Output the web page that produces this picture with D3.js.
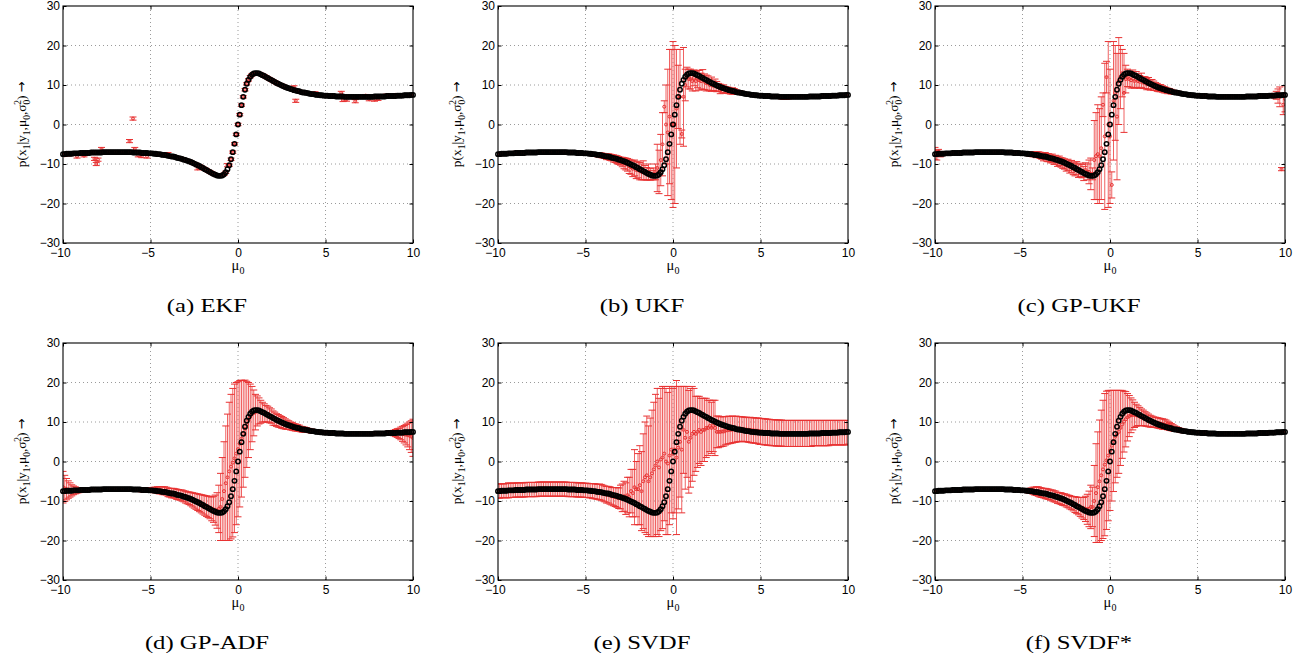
<!DOCTYPE html>
<html>
<head>
<meta charset="utf-8">
<title>Posterior of x1 for six filters</title>
<script src="https://cdn.jsdelivr.net/npm/d3@7/dist/d3.min.js"></script>
<style>
  body { margin: 0; background: #fff; }
  svg { display: block; }
  .ylab { font-family: "Liberation Serif", "Times New Roman", serif; font-size: 13.5px; fill: #000; }
  .xlab { font-family: "Liberation Serif", "Times New Roman", serif; font-size: 14.5px; fill: #000; }
  .cap { font-family: "Liberation Serif", "Times New Roman", serif; font-size: 19px; fill: #000; }
</style>
</head>
<body>
<svg id="fig" width="1302" height="653"></svg>
<script>
// test inputs mu0 = -10 ... 10 in steps of 0.1
var mu0 = d3.range(-100, 101).map(function (i) { return i / 10 });
var xTicks = [-10, -5, 0, 5, 10];
var yTicks = [-30, -20, -10, 0, 10, 20, 30];

// black circles: true posterior mean
var trueMean = [
  -7.5,-7.5,-7.4,-7.4,-7.4,-7.4,-7.3,-7.3,-7.3,-7.3,
  -7.2,-7.2,-7.2,-7.2,-7.2,-7.2,-7.1,-7.1,-7.1,-7.1,
  -7.1,-7.1,-7.1,-7.0,-7.0,-7.0,-7.0,-7.0,-7.0,-7.0,
  -7.0,-7.0,-7.0,-7.0,-7.0,-7.0,-7.0,-7.0,-7.0,-7.0,
  -7.1,-7.1,-7.1,-7.1,-7.1,-7.2,-7.2,-7.2,-7.2,-7.3,
  -7.3,-7.3,-7.4,-7.4,-7.5,-7.5,-7.6,-7.7,-7.7,-7.8,
  -7.9,-8.0,-8.1,-8.1,-8.2,-8.4,-8.5,-8.6,-8.7,-8.9,
  -9.0,-9.2,-9.3,-9.5,-9.7,-9.9,-10.1,-10.3,-10.5,-10.8,
  -11.0,-11.3,-11.5,-11.8,-12.0,-12.3,-12.5,-12.7,-12.9,-13.0,
  -13.0,-12.9,-12.6,-12.1,-11.3,-10.3,-8.8,-7.0,-4.9,-2.5,
  0.0,2.5,4.9,7.0,8.8,10.3,11.3,12.1,12.6,12.9,
  13.0,13.0,12.9,12.7,12.5,12.3,12.0,11.8,11.5,11.3,
  11.0,10.8,10.5,10.3,10.1,9.9,9.7,9.5,9.3,9.2,
  9.0,8.9,8.7,8.6,8.5,8.4,8.2,8.1,8.1,8.0,
  7.9,7.8,7.7,7.7,7.6,7.5,7.5,7.4,7.4,7.3,
  7.3,7.3,7.2,7.2,7.2,7.2,7.1,7.1,7.1,7.1,
  7.1,7.0,7.0,7.0,7.0,7.0,7.0,7.0,7.0,7.0,
  7.0,7.0,7.0,7.0,7.0,7.0,7.0,7.0,7.1,7.1,
  7.1,7.1,7.1,7.1,7.1,7.2,7.2,7.2,7.2,7.2,
  7.2,7.3,7.3,7.3,7.3,7.4,7.4,7.4,7.4,7.5,
  7.5];

// red error bars: filter mean and standard deviation
var ekfMean = [
  -7.6,-7.8,-7.5,-7.4,-7.6,-7.4,-7.5,-7.3,-8.1,-7.3,
  -7.2,-7.2,-7.9,-7.2,-7.2,-7.2,-7.1,-7.1,-8.7,-10.0,
  -8.9,-7.1,-6.2,-7.0,-7.0,-7.0,-7.0,-7.0,-7.0,-7.0,
  -7.0,-7.0,-7.0,-7.0,-7.0,-7.0,-7.0,-7.0,-4.2,-7.0,
  1.5,-6.2,-7.1,-7.8,-7.1,-8.0,-7.2,-7.2,-8.1,-7.3,
  -7.3,-7.3,-7.4,-7.4,-7.5,-7.5,-7.6,-7.7,-7.7,-7.8,
  -7.5,-8.0,-8.1,-8.1,-8.2,-8.4,-8.5,-8.6,-8.7,-8.9,
  -9.0,-9.2,-9.3,-9.5,-9.7,-9.9,-10.1,-11.1,-10.5,-10.8,
  -11.0,-11.3,-11.5,-11.8,-12.0,-12.3,-12.5,-12.7,-12.9,-13.0,
  -13.0,-12.9,-12.6,-12.1,-10.3,-10.3,-8.8,-7.0,-4.9,-2.5,
  0.0,2.5,4.9,7.0,8.8,10.3,11.3,12.1,12.6,12.9,
  13.0,13.0,12.9,12.7,12.5,12.3,12.0,11.8,11.5,11.3,
  11.0,10.8,10.5,10.3,10.1,9.9,9.7,9.5,9.3,9.2,
  9.0,8.9,9.4,6.0,8.5,8.4,8.2,8.1,8.1,8.0,
  7.9,7.8,7.7,7.7,7.9,7.5,7.5,7.4,7.4,7.3,
  7.3,7.3,7.2,7.2,7.2,7.2,7.1,7.1,7.1,8.0,
  6.2,7.0,6.3,7.0,7.0,7.0,7.0,5.9,7.0,7.0,
  7.0,7.0,7.0,7.3,7.0,6.4,7.0,7.0,6.3,7.1,
  6.5,7.1,7.1,7.1,7.1,7.4,7.2,7.2,7.2,7.2,
  7.5,7.3,7.3,7.3,7.3,7.4,7.4,7.4,7.4,7.5,
  7.5];
var ekfSd = [
  0.3,0.3,0.3,0.3,0.3,0.3,0.3,0.3,0.4,0.3,
  0.3,0.3,0.3,0.3,0.3,0.3,0.3,0.3,0.4,0.4,
  0.4,0.3,0.4,0.3,0.3,0.3,0.3,0.3,0.3,0.3,
  0.3,0.3,0.3,0.3,0.3,0.3,0.3,0.3,0.4,0.3,
  0.4,0.4,0.3,0.4,0.3,0.4,0.3,0.3,0.4,0.3,
  0.3,0.3,0.3,0.3,0.3,0.3,0.3,0.3,0.3,0.3,
  0.4,0.3,0.3,0.3,0.3,0.3,0.3,0.3,0.3,0.3,
  0.3,0.3,0.3,0.3,0.3,0.3,0.3,0.4,0.3,0.3,
  0.3,0.3,0.3,0.3,0.3,0.3,0.3,0.3,0.3,0.3,
  0.3,0.3,0.3,0.3,0.4,0.3,0.3,0.3,0.3,0.3,
  0.3,0.3,0.3,0.3,0.3,0.3,0.3,0.3,0.3,0.3,
  0.3,0.3,0.3,0.3,0.3,0.3,0.3,0.3,0.3,0.3,
  0.3,0.3,0.3,0.3,0.3,0.3,0.3,0.3,0.3,0.3,
  0.3,0.3,0.4,0.4,0.3,0.3,0.3,0.3,0.3,0.3,
  0.3,0.3,0.3,0.3,0.4,0.3,0.3,0.3,0.3,0.3,
  0.3,0.3,0.3,0.3,0.3,0.3,0.3,0.3,0.3,0.4,
  0.4,0.3,0.4,0.3,0.3,0.3,0.3,0.4,0.3,0.3,
  0.3,0.3,0.3,0.3,0.3,0.4,0.3,0.3,0.4,0.3,
  0.4,0.3,0.3,0.3,0.3,0.3,0.3,0.3,0.3,0.3,
  0.3,0.3,0.3,0.3,0.3,0.3,0.3,0.3,0.3,0.3,
  0.3];

var ukfMean = [
  -7.5,-7.5,-7.4,-7.4,-7.4,-7.4,-7.3,-7.3,-7.3,-7.3,
  -7.2,-7.2,-7.2,-7.2,-7.2,-7.2,-7.1,-7.1,-7.1,-7.1,
  -7.1,-7.1,-7.1,-7.0,-7.0,-7.0,-7.0,-7.0,-7.0,-7.0,
  -7.0,-7.0,-7.0,-7.0,-7.0,-7.0,-7.0,-7.0,-7.0,-7.0,
  -7.1,-7.1,-7.1,-7.1,-7.1,-7.2,-7.2,-7.2,-7.2,-7.3,
  -7.3,-7.3,-7.4,-7.4,-7.5,-7.5,-7.6,-7.7,-7.7,-7.8,
  -7.9,-8.0,-8.2,-8.1,-8.3,-8.4,-8.6,-8.7,-8.9,-9.1,
  -9.3,-9.5,-9.8,-10.0,-10.2,-10.6,-10.8,-11.2,-11.0,-11.5,
  -11.5,-11.8,-12.0,-11.6,-12.2,-12.5,-12.0,-12.6,-12.8,-12.5,
  -12.0,-11.0,-12.0,-9.0,-5.0,4.5,0.0,-2.0,2.0,0.0,
  0.0,0.0,4.0,7.0,7.0,-2.4,7.0,10.0,12.0,11.5,
  11.5,11.0,11.8,11.0,11.5,11.2,11.0,11.4,10.8,10.5,
  10.5,10.0,10.2,9.8,10.0,9.6,9.4,9.0,9.0,9.0,
  8.8,8.7,8.6,8.4,8.5,8.4,8.2,8.1,8.1,8.0,
  7.9,7.8,7.7,7.7,7.6,7.5,7.5,7.4,7.4,7.3,
  7.3,7.3,7.2,7.2,7.2,7.2,7.1,7.1,7.1,7.1,
  7.1,7.0,6.9,6.8,6.8,6.8,6.9,7.0,7.0,7.0,
  7.0,7.0,7.0,7.0,7.0,7.0,7.0,7.0,7.1,7.1,
  7.1,7.1,7.1,7.1,7.1,7.2,7.2,7.2,7.2,7.2,
  7.2,7.3,7.3,7.3,7.3,7.4,7.4,7.4,7.4,7.5,
  7.5];
var ukfSd = [
  0.4,0.4,0.4,0.4,0.4,0.4,0.4,0.4,0.4,0.4,
  0.4,0.4,0.4,0.4,0.4,0.4,0.4,0.4,0.4,0.4,
  0.3,0.3,0.3,0.3,0.3,0.3,0.3,0.3,0.3,0.3,
  0.3,0.3,0.3,0.3,0.3,0.3,0.3,0.3,0.3,0.3,
  0.3,0.3,0.3,0.3,0.3,0.3,0.3,0.3,0.3,0.3,
  0.3,0.3,0.3,0.4,0.4,0.4,0.5,0.5,0.5,0.6,
  0.6,0.6,0.7,0.7,0.8,0.8,0.9,0.9,1.0,1.0,
  1.0,1.2,1.4,1.5,1.6,1.8,1.8,2.0,2.0,2.2,
  2.0,2.2,2.0,2.4,1.8,1.6,2.0,1.5,1.2,1.5,
  2.0,6.0,5.5,6.5,8.0,1.5,10.0,16.0,17.0,19.0,
  21.0,20.0,15.0,8.0,12.0,1.0,12.5,4.0,2.5,2.5,
  2.5,2.5,2.0,2.5,2.2,2.5,2.0,2.5,2.0,2.0,
  1.8,1.5,1.8,1.2,1.5,1.3,1.0,1.2,1.0,1.0,
  0.8,0.8,0.8,0.7,0.8,0.7,0.6,0.5,0.5,0.4,
  0.4,0.3,0.3,0.3,0.3,0.3,0.3,0.3,0.3,0.3,
  0.3,0.3,0.3,0.3,0.3,0.3,0.3,0.3,0.3,0.3,
  0.3,0.3,0.4,0.4,0.4,0.4,0.4,0.3,0.3,0.3,
  0.3,0.3,0.3,0.3,0.3,0.3,0.3,0.3,0.3,0.3,
  0.3,0.3,0.3,0.3,0.3,0.3,0.3,0.3,0.3,0.3,
  0.3,0.3,0.3,0.3,0.3,0.3,0.3,0.3,0.3,0.3,
  0.3];

var gpukfMean = [
  -7.3,-7.8,-7.2,-7.5,-7.4,-7.4,-7.3,-7.3,-7.3,-7.3,
  -7.2,-7.2,-7.2,-7.2,-7.2,-7.2,-7.1,-7.1,-7.1,-7.1,
  -7.1,-7.1,-7.1,-7.0,-7.0,-7.0,-7.0,-7.0,-7.0,-7.0,
  -7.0,-7.0,-7.0,-7.0,-7.0,-7.0,-7.0,-7.0,-7.0,-7.0,
  -7.1,-7.1,-7.1,-7.1,-7.1,-7.2,-7.2,-7.2,-7.2,-7.3,
  -7.3,-7.3,-7.4,-7.4,-7.5,-7.4,-7.6,-7.5,-7.7,-7.6,
  -7.8,-8.0,-8.3,-8.0,-8.4,-8.4,-8.7,-8.6,-9.0,-8.9,
  -9.4,-9.2,-9.6,-9.8,-10.0,-10.4,-10.2,-10.8,-10.6,-11.2,
  -11.4,-11.0,-11.8,-11.5,-11.8,-12.4,-11.5,-12.0,-12.0,-12.5,
  -12.5,-9.0,-8.0,-7.5,-8.0,-6.0,5.0,-3.0,12.0,0.0,
  -3.0,-15.3,6.0,8.0,2.0,11.0,12.0,13.0,8.0,11.5,
  11.8,11.5,11.2,11.6,11.0,11.4,11.0,10.8,11.2,10.6,
  10.6,10.2,10.4,10.0,10.2,9.8,9.6,9.4,9.2,9.2,
  9.0,8.8,8.7,8.5,8.5,8.3,8.2,8.1,8.0,8.0,
  7.9,7.8,7.7,7.7,7.6,7.5,7.5,7.4,7.4,7.3,
  7.3,7.3,7.2,7.2,7.2,7.2,7.1,7.1,7.1,7.1,
  7.1,7.0,7.0,7.0,7.0,7.0,7.0,7.0,7.0,7.0,
  7.0,7.0,7.0,7.0,7.0,7.0,7.0,7.0,7.1,7.1,
  7.1,7.1,7.1,7.1,7.1,7.2,7.2,7.2,7.2,7.2,
  7.2,7.3,7.3,7.3,7.3,7.4,7.2,7.0,-11.3,5.0,
  6.5];
var gpukfSd = [
  1.5,1.2,0.9,0.7,0.5,0.4,0.3,0.3,0.3,0.3,
  0.3,0.3,0.3,0.3,0.3,0.3,0.3,0.3,0.3,0.3,
  0.3,0.3,0.3,0.3,0.3,0.3,0.3,0.3,0.3,0.3,
  0.3,0.3,0.3,0.3,0.3,0.3,0.3,0.3,0.3,0.3,
  0.3,0.3,0.3,0.3,0.3,0.3,0.3,0.3,0.3,0.3,
  0.3,0.3,0.4,0.4,0.5,0.5,0.6,0.6,0.7,0.7,
  0.8,0.8,0.9,0.9,1.0,1.0,1.0,1.1,1.1,1.1,
  1.2,1.2,1.2,1.3,1.3,1.4,1.4,1.5,1.5,1.5,
  1.6,1.6,1.6,1.7,1.7,1.8,1.8,2.0,3.0,4.0,
  1.5,10.0,11.0,12.5,12.0,13.0,3.0,18.5,4.0,21.0,
  17.0,3.3,15.0,12.0,16.0,11.0,8.0,6.0,10.0,3.5,
  2.2,2.0,2.0,2.2,1.8,2.0,1.8,1.6,1.8,1.5,
  1.5,1.4,1.5,1.3,1.2,1.2,1.0,1.0,0.9,0.9,
  0.8,0.8,0.7,0.7,0.6,0.6,0.5,0.5,0.4,0.4,
  0.3,0.3,0.3,0.3,0.3,0.3,0.3,0.3,0.3,0.3,
  0.3,0.3,0.3,0.3,0.3,0.3,0.3,0.3,0.3,0.3,
  0.3,0.3,0.3,0.3,0.3,0.3,0.3,0.3,0.3,0.3,
  0.3,0.3,0.3,0.3,0.3,0.3,0.3,0.3,0.3,0.3,
  0.3,0.3,0.3,0.3,0.3,0.3,0.3,0.3,0.3,0.3,
  0.3,0.3,0.3,0.4,0.6,1.0,1.8,2.5,0.4,2.5,
  3.3];

var gpadfMean = [
  -6.5,-6.8,-7.0,-7.1,-7.2,-7.3,-7.3,-7.3,-7.3,-7.3,
  -7.2,-7.2,-7.2,-7.2,-7.2,-7.2,-7.1,-7.1,-7.1,-7.1,
  -7.1,-7.1,-7.1,-7.0,-7.0,-7.0,-7.0,-7.0,-7.0,-7.0,
  -7.0,-7.0,-7.0,-7.0,-7.0,-7.0,-7.0,-7.0,-7.0,-7.0,
  -7.1,-7.1,-7.1,-7.1,-7.1,-7.2,-7.2,-7.2,-7.2,-7.3,
  -7.2,-7.2,-7.2,-7.2,-7.2,-7.3,-7.3,-7.4,-7.4,-7.5,
  -7.8,-7.9,-8.0,-8.0,-8.1,-8.3,-8.4,-8.5,-8.6,-8.8,
  -9.0,-9.2,-9.3,-9.5,-9.7,-9.9,-10.1,-10.3,-10.5,-10.7,
  -10.9,-11.1,-11.3,-11.5,-11.7,-12.0,-12.1,-12.3,-12.4,-12.0,
  -11.5,-9.5,-7.5,-5.5,-4.0,-2.5,-1.3,-0.3,0.8,2.0,
  3.1,4.5,5.8,7.0,8.3,9.4,10.5,11.3,12.0,12.3,
  12.5,12.8,12.8,12.6,12.5,12.3,12.1,12.0,11.7,11.5,
  11.0,10.8,10.5,10.3,10.1,9.9,9.7,9.5,9.3,9.2,
  9.0,8.9,8.7,8.6,8.5,8.4,8.2,8.1,8.1,8.0,
  7.9,7.8,7.7,7.7,7.6,7.5,7.5,7.4,7.4,7.3,
  7.3,7.3,7.2,7.2,7.2,7.2,7.1,7.1,7.1,7.1,
  7.1,7.0,7.0,7.0,7.0,7.0,7.0,7.0,7.0,7.0,
  7.0,7.0,7.0,7.0,7.0,7.0,7.0,7.0,7.1,7.1,
  7.1,7.1,7.1,7.1,7.1,7.2,7.2,7.2,7.2,7.2,
  7.2,7.2,7.1,7.1,7.0,6.9,6.8,6.7,6.5,6.3,
  6.0];
var gpadfSd = [
  4.0,3.3,2.7,2.2,1.8,1.4,1.1,0.9,0.7,0.6,
  0.5,0.5,0.4,0.4,0.4,0.4,0.4,0.4,0.4,0.4,
  0.4,0.4,0.4,0.4,0.4,0.4,0.4,0.4,0.4,0.4,
  0.4,0.4,0.4,0.4,0.4,0.4,0.4,0.4,0.4,0.4,
  0.4,0.4,0.4,0.4,0.4,0.5,0.5,0.5,0.5,0.5,
  0.6,0.6,0.7,0.7,0.8,0.9,0.9,1.0,1.0,1.0,
  1.1,1.1,1.2,1.2,1.2,1.3,1.3,1.3,1.4,1.4,
  1.5,1.5,1.6,1.7,1.8,1.9,2.0,2.1,2.2,2.3,
  2.4,2.5,2.6,2.7,2.8,3.0,3.3,3.8,4.5,6.0,
  8.5,10.5,12.5,14.5,16.0,17.5,18.3,18.8,18.8,18.0,
  17.1,16.0,14.8,13.5,12.3,10.9,9.5,8.3,7.0,5.8,
  4.5,3.8,3.3,2.9,2.5,2.3,2.1,2.0,1.9,1.8,
  1.8,1.7,1.6,1.6,1.5,1.5,1.4,1.3,1.2,1.1,
  1.0,1.0,0.9,0.9,0.8,0.8,0.7,0.7,0.6,0.6,
  0.5,0.5,0.5,0.4,0.4,0.4,0.4,0.3,0.3,0.3,
  0.3,0.3,0.3,0.3,0.3,0.3,0.3,0.3,0.3,0.3,
  0.3,0.3,0.3,0.3,0.3,0.3,0.3,0.3,0.3,0.3,
  0.3,0.3,0.3,0.3,0.3,0.3,0.3,0.3,0.3,0.3,
  0.3,0.3,0.3,0.3,0.3,0.4,0.5,0.5,0.6,0.7,
  0.9,1.1,1.3,1.6,1.9,2.2,2.6,3.0,3.5,4.0,
  4.7];

var svdfMean = [
  -7.5,-7.5,-7.4,-7.4,-7.4,-7.4,-7.3,-7.3,-7.3,-7.3,
  -7.2,-7.2,-7.2,-7.2,-7.2,-7.2,-7.1,-7.1,-7.1,-7.1,
  -7.1,-7.1,-7.1,-7.0,-7.0,-7.0,-7.0,-7.0,-7.0,-7.0,
  -7.0,-7.0,-7.0,-7.0,-7.0,-7.0,-7.0,-7.0,-7.0,-7.0,
  -7.1,-7.1,-7.1,-7.1,-7.1,-7.2,-7.2,-7.2,-7.2,-7.3,
  -7.3,-7.3,-7.4,-7.4,-7.5,-7.5,-7.6,-7.7,-7.7,-7.8,
  -8.0,-8.2,-8.4,-8.4,-8.6,-8.8,-8.9,-9.0,-9.1,-9.3,
  -9.0,-9.2,-8.8,-9.4,-8.5,-9.0,-7.5,-8.0,-6.5,-7.0,
  -7.0,-6.0,-7.5,-5.0,-4.0,-3.5,-5.0,-4.0,-3.0,-2.0,
  -1.0,0.0,-1.5,0.5,1.0,2.0,0.0,-0.5,1.5,3.0,
  2.0,3.0,1.0,3.5,5.0,3.0,8.0,6.0,7.5,5.0,
  6.0,7.0,7.5,7.0,7.5,8.0,7.5,8.0,8.0,8.5,
  8.5,9.0,8.5,9.0,8.5,7.5,7.5,7.5,7.6,7.6,
  7.8,7.9,8.0,8.0,8.1,8.1,8.2,8.2,8.2,8.2,
  8.2,8.1,8.1,8.0,8.0,7.9,7.9,7.8,7.8,7.7,
  7.6,7.6,7.5,7.5,7.4,7.4,7.3,7.3,7.3,7.2,
  7.2,7.2,7.2,7.1,7.1,7.1,7.1,7.1,7.1,7.1,
  7.1,7.1,7.1,7.1,7.1,7.1,7.1,7.1,7.1,7.1,
  7.2,7.2,7.2,7.2,7.2,7.2,7.2,7.2,7.2,7.2,
  7.3,7.3,7.3,7.3,7.3,7.3,7.3,7.3,7.3,7.3,
  7.4];
var svdfSd = [
  1.8,1.8,1.8,1.7,1.8,1.8,1.9,1.8,1.8,1.8,
  1.8,1.8,1.8,1.8,1.8,1.8,1.8,1.8,1.8,1.8,
  1.8,1.8,1.8,1.8,1.8,1.8,1.8,1.8,1.8,1.8,
  1.8,1.8,1.8,1.8,1.8,1.8,1.8,1.8,1.8,1.8,
  1.8,1.8,1.8,1.8,1.8,1.8,1.8,1.8,1.8,1.8,
  1.8,1.8,1.8,1.8,1.9,1.9,1.9,1.9,2.0,2.0,
  2.0,2.0,2.1,2.1,2.2,2.2,2.3,2.4,2.5,2.6,
  3.0,3.5,3.8,4.0,4.5,5.0,5.5,6.0,9.5,7.0,
  9.0,10.0,10.0,12.0,14.0,15.0,14.0,15.0,16.0,17.0,
  18.0,18.5,17.5,18.0,18.0,17.0,18.5,18.0,17.5,16.0,
  16.5,16.0,19.5,15.5,14.0,16.0,11.0,13.0,11.5,13.0,
  12.5,12.0,11.0,9.5,9.0,8.5,8.5,8.0,8.0,7.5,
  7.0,6.5,6.5,6.5,7.0,4.0,4.0,3.8,3.8,3.7,
  3.6,3.5,3.5,3.4,3.4,3.3,3.3,3.2,3.2,3.1,
  3.1,3.1,3.1,3.1,3.2,3.2,3.2,3.2,3.2,3.3,
  3.3,3.3,3.3,3.3,3.3,3.3,3.3,3.3,3.3,3.3,
  3.3,3.3,3.3,3.3,3.3,3.3,3.3,3.3,3.3,3.3,
  3.3,3.3,3.3,3.3,3.3,3.3,3.3,3.3,3.3,3.3,
  3.2,3.2,3.2,3.2,3.2,3.2,3.2,3.2,3.2,3.2,
  3.1,3.1,3.1,3.1,3.1,3.1,3.1,3.1,3.1,3.1,
  3.0];

var svdfStarMean = [
  -7.5,-7.5,-7.4,-7.4,-7.4,-7.4,-7.3,-7.3,-7.3,-7.3,
  -7.2,-7.2,-7.2,-7.2,-7.2,-7.2,-7.1,-7.1,-7.1,-7.1,
  -7.1,-7.1,-7.1,-7.0,-7.0,-7.0,-7.0,-7.0,-7.0,-7.0,
  -7.0,-7.0,-7.0,-7.0,-7.0,-7.0,-7.0,-7.0,-7.0,-7.0,
  -7.1,-7.1,-7.1,-7.1,-7.1,-7.2,-7.2,-7.2,-7.2,-7.3,
  -7.3,-7.3,-7.4,-7.4,-7.4,-7.4,-7.4,-7.5,-7.5,-7.6,
  -7.8,-7.9,-8.0,-8.1,-8.2,-8.3,-8.5,-8.6,-8.8,-8.9,
  -9.2,-9.3,-9.4,-9.6,-9.7,-9.9,-10.1,-10.3,-10.5,-10.7,
  -10.9,-11.1,-11.3,-11.5,-11.7,-11.9,-12.0,-12.1,-12.0,-11.5,
  -11.5,-10.0,-8.0,-6.5,-5.0,-3.5,-2.0,-0.8,0.3,1.5,
  2.8,4.0,5.2,6.3,7.0,7.5,8.5,9.4,10.1,10.7,
  11.2,11.5,11.7,11.8,11.8,11.7,11.6,11.4,11.2,11.0,
  10.8,10.6,10.4,10.2,10.1,10.0,9.9,9.8,9.7,9.6,
  9.5,9.4,9.3,9.1,8.9,8.7,8.5,8.3,8.2,8.1,
  7.9,7.8,7.7,7.7,7.6,7.5,7.5,7.4,7.4,7.3,
  7.3,7.3,7.2,7.2,7.2,7.2,7.1,7.1,7.1,7.1,
  7.1,7.0,7.0,7.0,7.0,7.0,7.0,7.0,7.0,7.0,
  7.0,7.0,7.0,7.0,7.0,7.0,7.0,7.0,7.1,7.1,
  7.1,7.1,7.1,7.1,7.1,7.2,7.2,7.2,7.2,7.2,
  7.2,7.3,7.3,7.3,7.3,7.4,7.4,7.4,7.4,7.5,
  7.5];
var svdfStarSd = [
  0.3,0.3,0.3,0.3,0.3,0.3,0.3,0.3,0.3,0.3,
  0.3,0.3,0.3,0.3,0.3,0.3,0.3,0.3,0.3,0.3,
  0.3,0.3,0.3,0.3,0.3,0.3,0.3,0.3,0.3,0.3,
  0.3,0.3,0.3,0.3,0.3,0.3,0.3,0.3,0.3,0.3,
  0.3,0.3,0.3,0.3,0.3,0.3,0.3,0.3,0.3,0.3,
  0.3,0.3,0.4,0.5,0.6,0.7,0.9,1.0,1.1,1.2,
  1.2,1.2,1.2,1.3,1.3,1.3,1.3,1.4,1.4,1.4,
  1.4,1.4,1.5,1.5,1.5,1.6,1.6,1.7,1.7,1.8,
  2.0,2.1,2.2,2.4,2.6,2.8,3.2,3.8,4.5,5.5,
  5.0,9.0,12.5,14.0,15.5,16.5,17.5,18.0,17.5,16.5,
  15.2,14.0,12.8,11.7,11.0,10.5,9.5,8.6,7.7,7.0,
  6.0,5.2,4.4,3.8,3.2,2.8,2.5,2.3,2.1,2.0,
  1.8,1.7,1.6,1.5,1.4,1.3,1.3,1.3,1.3,1.3,
  1.3,1.3,1.2,1.1,1.0,0.9,0.8,0.7,0.6,0.5,
  0.5,0.5,0.4,0.4,0.4,0.4,0.3,0.3,0.3,0.3,
  0.3,0.3,0.3,0.3,0.3,0.3,0.3,0.3,0.3,0.3,
  0.3,0.3,0.3,0.3,0.3,0.3,0.3,0.3,0.3,0.3,
  0.3,0.3,0.3,0.3,0.3,0.3,0.3,0.3,0.3,0.3,
  0.3,0.3,0.3,0.3,0.3,0.3,0.3,0.3,0.3,0.3,
  0.3,0.3,0.3,0.3,0.3,0.3,0.3,0.3,0.3,0.3,
  0.3];

var panels = [
  { tag: "(a)", name: "EKF", mean: ekfMean, sd: ekfSd },
  { tag: "(b)", name: "UKF", mean: ukfMean, sd: ukfSd },
  { tag: "(c)", name: "GP-UKF", mean: gpukfMean, sd: gpukfSd },
  { tag: "(d)", name: "GP-ADF", mean: gpadfMean, sd: gpadfSd },
  { tag: "(e)", name: "SVDF", mean: svdfMean, sd: svdfSd },
  { tag: "(f)", name: "SVDF*", mean: svdfStarMean, sd: svdfStarSd }
];

var svg = d3.select("#fig");
var W = 350, H = 237;
var colX = [63, 498, 935], rowY = [6, 343];
var barRed = "#f06262", capRed = "#e83232";

function styleAxis(sel) {
  sel.attr("font-family", "'Liberation Sans', Arial, sans-serif").attr("font-size", 12);
  sel.select(".domain").remove();
  sel.selectAll(".tick line").attr("stroke", "#000");
  sel.selectAll(".tick text").attr("fill", "#000");
}

panels.forEach(function (p, i) {
  var left = colX[i % 3], top = rowY[Math.floor(i / 3)];
  var x = d3.scaleLinear().domain([-10, 10]).range([0, W]);
  var y = d3.scaleLinear().domain([-30, 30]).range([H, 0]);
  var g = svg.append("g").attr("transform", "translate(" + left + "," + top + ")");

  g.append("clipPath").attr("id", "clip" + i)
    .append("rect").attr("width", W).attr("height", H);

  // dotted grid
  var grid = g.append("g").attr("stroke", "#9a9a9a").attr("stroke-dasharray", "1,3");
  grid.selectAll("line.gx").data(xTicks.slice(1, -1)).enter().append("line")
    .attr("x1", x).attr("x2", x).attr("y1", 0).attr("y2", H);
  grid.selectAll("line.gy").data(yTicks.slice(1, -1)).enter().append("line")
    .attr("y1", y).attr("y2", y).attr("x1", 0).attr("x2", W);

  var pts = mu0.map(function (m, j) {
    return { x: m, m: p.mean[j], s: p.sd[j], t: trueMean[j] };
  });

  // red error bars
  var eb = g.append("g").attr("clip-path", "url(#clip" + i + ")").attr("fill", "none");
  eb.selectAll("line.v").data(pts).enter().append("line")
    .attr("stroke", barRed).attr("stroke-width", 1)
    .attr("x1", function (d) { return x(d.x) }).attr("x2", function (d) { return x(d.x) })
    .attr("y1", function (d) { return y(d.m - d.s) }).attr("y2", function (d) { return y(d.m + d.s) });
  [-1, 1].forEach(function (k) {
    eb.selectAll("line.c" + k).data(pts).enter().append("line")
      .attr("stroke", capRed).attr("stroke-width", 1)
      .attr("x1", function (d) { return x(d.x - 0.2) }).attr("x2", function (d) { return x(d.x + 0.2) })
      .attr("y1", function (d) { return y(d.m + k * d.s) }).attr("y2", function (d) { return y(d.m + k * d.s) });
  });
  eb.selectAll("circle").data(pts).enter().append("circle")
    .attr("stroke", capRed)
    .attr("cx", function (d) { return x(d.x) }).attr("cy", function (d) { return y(d.m) })
    .attr("r", 1.5).attr("stroke-width", 1);

  // black circles: true mean
  g.append("g").attr("fill", "none").attr("stroke", "#000").attr("stroke-width", 1.5)
    .selectAll("circle").data(pts).enter().append("circle")
    .attr("cx", function (d) { return x(d.x) }).attr("cy", function (d) { return y(d.t) })
    .attr("r", 2.2);

  // axes, ticks inward on all four sides
  var fmt = d3.format("d");
  var bx = g.append("g").attr("transform", "translate(0," + H + ")")
    .call(d3.axisBottom(x).tickValues(xTicks).tickFormat(fmt).tickSizeInner(-3.5).tickSizeOuter(0).tickPadding(5.5))
    .call(styleAxis);
  bx.selectAll(".tick text").filter(function (d) { return d < 0 }).attr("dx", -3);
  g.append("g")
    .call(d3.axisLeft(y).tickValues(yTicks).tickFormat(fmt).tickSizeInner(-3.5).tickSizeOuter(0).tickPadding(3))
    .call(styleAxis);
  g.append("g")
    .call(d3.axisTop(x).tickValues(xTicks).tickFormat("").tickSizeInner(-3.5).tickSizeOuter(0))
    .call(styleAxis);
  g.append("g").attr("transform", "translate(" + W + ",0)")
    .call(d3.axisRight(y).tickValues(yTicks).tickFormat("").tickSizeInner(-3.5).tickSizeOuter(0))
    .call(styleAxis);

  g.append("rect").attr("width", W).attr("height", H)
    .attr("fill", "none").attr("stroke", "#000").attr("stroke-width", 1.1);

  // x label mu_0
  var xl = g.append("text").attr("class", "xlab").attr("x", W / 2).attr("y", H + 27).attr("text-anchor", "middle");
  xl.append("tspan").text("μ");
  xl.append("tspan").attr("dy", 4).style("font-size", "10px").text("0");

  // y label p(x1|y1,mu0,sigma0^2) ->
  var yl = g.append("text").attr("class", "ylab").attr("text-anchor", "middle")
    .attr("transform", "translate(-37," + (H / 2) + ") rotate(-90)");
  var parts = [["p(x", 0], ["1", 1], ["|y", 0], ["1", 1], [",μ", 0], ["0", 1], [",σ", 0], ["0", 1], ["2", 2], [")", 0]];
  var shift = 0;
  parts.forEach(function (q) {
    var target = q[1] === 1 ? 3.5 : (q[1] === 2 ? -5.5 : 0);
    var ts = yl.append("tspan").attr("dy", target - shift).text(q[0]);
    if (q[1]) ts.style("font-size", "9.5px");
    if (q[1] === 2) ts.attr("dx", -5.2);
    shift = target;
  });
  yl.append("tspan").attr("dx", 3).style("font-family", "'DejaVu Sans', sans-serif").style("font-size", "13px").text("→");

  // sub-figure caption
  var cap = g.append("text").attr("class", "cap").attr("text-anchor", "middle")
    .attr("x", W / 2 - 31).attr("y", H + 68.5)
    .text(p.tag + " " + p.name);
  var w = cap.node().getComputedTextLength();
  cap.attr("textLength", w * 1.3).attr("lengthAdjust", "spacingAndGlyphs");
});
</script>
</body>
</html>
